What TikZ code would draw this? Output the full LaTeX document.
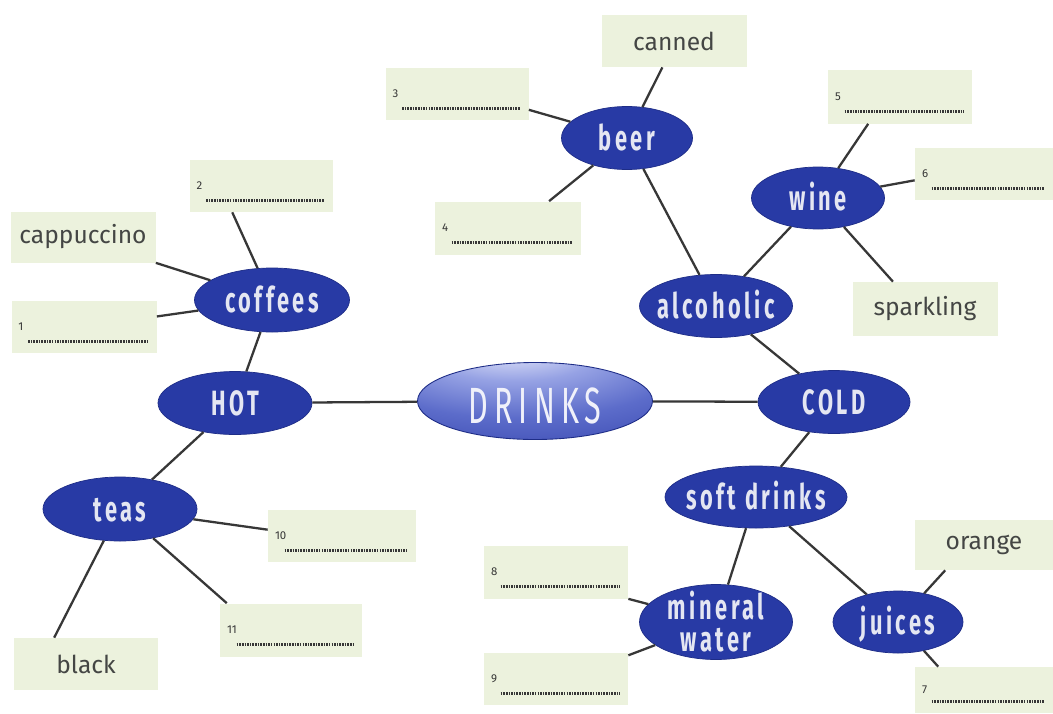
\documentclass[tikz,border=0pt]{standalone}
\usepackage{fontspec}
\setmainfont{Fira Sans}
\newfontfamily\ellfont{Fira Sans}[FakeStretch=0.62,LetterSpace=10]
\newfontfamily\bigfont{Fira Sans}[FakeStretch=0.6,LetterSpace=12]
\usetikzlibrary{shapes.geometric,calc}
\definecolor{ellc}{RGB}{40,58,165}
\definecolor{ellrim}{RGB}{30,45,135}
\definecolor{elltext}{RGB}{228,230,242}
\definecolor{boxc}{RGB}{236,242,221}
\definecolor{boxtext}{RGB}{68,70,68}
\definecolor{linec}{RGB}{55,55,55}
\definecolor{dotc}{RGB}{55,55,55}
\definecolor{drA}{RGB}{220,224,248}
\definecolor{drB}{RGB}{150,162,228}
\definecolor{drC}{RGB}{92,108,202}
\definecolor{drD}{RGB}{55,70,175}
\definecolor{drE}{RGB}{40,55,160}
\definecolor{drtext}{RGB}{240,241,250}
\pgfdeclareradialshading{drinkshade}{\pgfpoint{-6bp}{40bp}}{color(0bp)=(drA);color(6bp)=(drA);color(18bp)=(drB);color(34bp)=(drC);color(54bp)=(drD);color(80bp)=(drE)}
\tikzset{
  sz/.style 2 args={minimum width=#1*0.02cm, minimum height=#2*0.02cm},
  ell/.style={ellipse, fill=ellc, draw=ellrim, line width=0.4pt, inner sep=0pt, text=elltext,
    font=\ellfont\bfseries\fontsize{20}{22}\selectfont, text height=14pt, text depth=0pt},
  bx/.style={rectangle, fill=boxc, inner sep=0pt, text=boxtext, font=\fontsize{14}{16}\selectfont},
  conn/.style={draw=linec, line width=1.3pt},
  dotline/.style={draw=dotc, line width=1.6pt, dash pattern=on 0.9pt off 0.6pt},
  numlbl/.style={font=\fontsize{6.5}{7}\selectfont, text=dotc, inner sep=0pt, anchor=west},
}
\newcommand{\numbox}[6]{%
  \node[bx, sz={#4}{#5}] (#1) at (#2,#3) {};
  \node[numlbl] (#1n) at ([xshift=0.14cm]#1.west) {#6};
  \draw[dotline] ([xshift=0.34cm,yshift=0.24cm]#1.south west) -- ([xshift=-0.18cm,yshift=0.24cm]#1.south east);
}
\begin{document}
\begin{tikzpicture}[x=0.02cm,y=-0.02cm]
\useasboundingbox (0,0) rectangle (1053,713);
\fill[white] (0,0) rectangle (1053,713);

% ellipses
\node[ellipse, sz={235}{77}, shading=drinkshade, draw=ellrim, line width=0.5pt, inner sep=0pt,
  text=drtext, font=\bigfont\fontsize{29}{30}\selectfont, text height=26pt, text depth=0pt]
  (drinks) at (535,401) {\makebox[0pt]{DRINKS}};
\node[ell, sz={154}{63}] (hot) at (235,403) {\makebox[0pt]{HOT}};
\node[ell, sz={152}{63}] (cold) at (834,402) {\makebox[0pt]{COLD}};
\node[ell, sz={155}{64}] (coffees) at (272,300) {\makebox[0pt]{coffees}};
\node[ell, sz={154}{64}] (teas) at (120,509) {\makebox[0pt]{teas}};
\node[ell, sz={131}{63}] (beer) at (627,138) {\makebox[0pt]{beer}};
\node[ell, sz={133}{62}] (wine) at (818,198) {\makebox[0pt]{wine}};
\node[ell, sz={153}{63}] (alc) at (716,306) {\makebox[0pt]{alcoholic}};
\node[ell, sz={182}{62}] (soft) at (756,497) {\makebox[0pt]{soft drinks}};
\node[ell, sz={153}{75}] (mineral) at (716,622) {\makebox[0pt]{\raisebox{-10pt}[0pt][0pt]{\fontsize{20}{17}\selectfont\begin{tabular}[b]{@{}c@{}}mineral\\water\end{tabular}}}};
\node[ell, sz={130}{62}] (juices) at (898,622) {\makebox[0pt]{juices}};

% word boxes
\node[bx, sz={145}{52}] (canned) at (674,41) {canned};
\node[bx, sz={145}{51}] (capp) at (83,237) {cappuccino};
\node[bx, sz={144}{52}] (black) at (86,664) {black};
\node[bx, sz={145}{54}] (spark) at (925,309) {sparkling};
\node[bx, sz={138}{50}] (orange) at (984,545) {orange};

% numbered boxes
\numbox{b1}{84}{327}{145}{52}{1}
\numbox{b2}{261}{186}{143}{52}{2}
\numbox{b3}{457}{94}{143}{52}{3}
\numbox{b4}{508}{228}{146}{53}{4}
\numbox{b5}{900}{97}{144}{53}{5}
\numbox{b6}{984}{174}{138}{52}{6}
\numbox{b7}{984}{690}{138}{46}{7}
\numbox{b8}{556}{572}{144}{53}{8}
\numbox{b9}{556}{679}{144}{52}{9}
\numbox{b10}{342}{536}{148}{52}{10}
\numbox{b11}{291}{630}{142}{53}{11}

% connectors
\draw[conn] (drinks) -- (hot);
\draw[conn] (drinks) -- (cold);
\draw[conn] (hot) -- (coffees);
\draw[conn] (hot) -- (teas);
\draw[conn] (coffees) -- ($(b2.south west)!0.3!(b2.south east)$);
\draw[conn] (coffees) -- (capp.south east);
\draw[conn] (coffees) -- ($(b1.north east)!0.3!(b1.south east)$);
\draw[conn] (teas) -- ($(b10.north west)!0.38!(b10.south west)$);
\draw[conn] (teas) -- ($(b11.north west)!0.05!(b11.north east)$);
\draw[conn] (teas) -- ($(black.north west)!0.28!(black.north east)$);
\draw[conn] (cold) -- (alc);
\draw[conn] (alc) -- (beer);
\draw[conn] (alc) -- (wine);
\draw[conn] (beer) -- ($(canned.south west)!0.42!(canned.south east)$);
\draw[conn] (beer) -- ($(b3.north east)!0.8!(b3.south east)$);
\draw[conn] (beer) -- ($(b4.north west)!0.78!(b4.north east)$);
\draw[conn] (wine) -- ($(b5.south west)!0.28!(b5.south east)$);
\draw[conn] (wine) -- ($(b6.north west)!0.62!(b6.south west)$);
\draw[conn] (wine) -- ($(spark.north west)!0.28!(spark.north east)$);
\draw[conn] (cold) -- (soft);
\draw[conn] (soft) -- (mineral);
\draw[conn] (soft) -- (juices);
\draw[conn] (mineral) -- (b8.south east);
\draw[conn] (mineral) -- ($(b9.north east)!0.05!(b9.south east)$);
\draw[conn] (juices) -- ($(orange.south west)!0.22!(orange.south east)$);
\draw[conn] (juices) -- ($(b7.north west)!0.17!(b7.north east)$);
\end{tikzpicture}
\end{document}
